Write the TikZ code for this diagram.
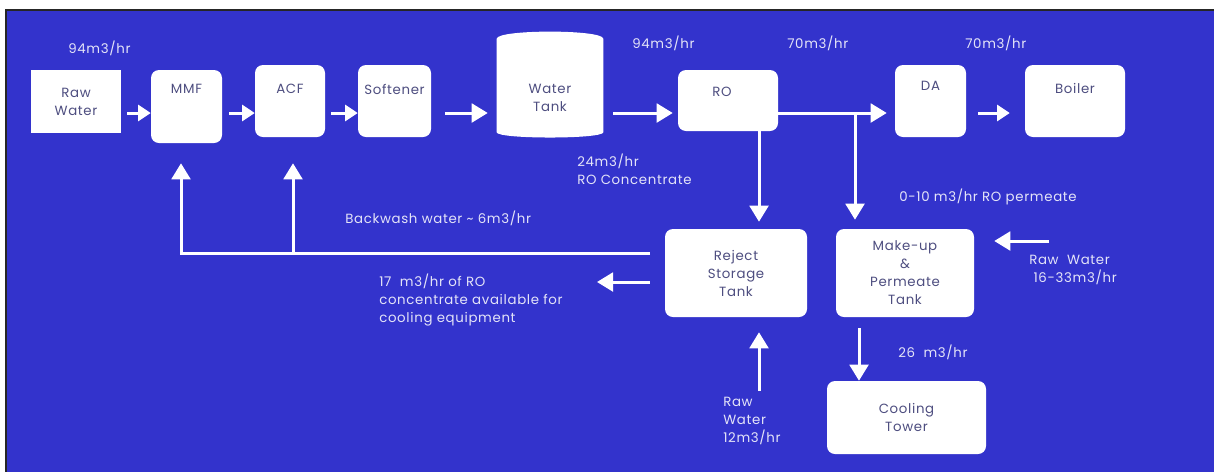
\documentclass[tikz,border=0pt]{standalone}
\usepackage{fontspec}
\setmainfont{Poppins}[LetterSpace=5]
\usetikzlibrary{arrows.meta,calc}
\definecolor{bg}{RGB}{51,51,204}
\definecolor{intext}{RGB}{78,78,128}
\definecolor{outtext}{RGB}{228,228,248}
\tikzset{
  box/.style={fill=white, rounded corners=6pt, inner sep=0pt, text=intext, align=center, font=\fontsize{10}{13.5}\selectfont},
  sqbox/.style={box, rounded corners=0pt},
  intxt/.style={text=intext, inner sep=0pt, font=\fontsize{10}{13.5}\selectfont},
  lbl/.style={text=outtext, anchor=west, align=left, inner sep=0pt, font=\fontsize{10}{13.5}\selectfont},
  flow/.style={draw=white, line width=2.25pt, -{Triangle[length=12pt,width=14pt]}},
  flowsm/.style={flow, -{Triangle[length=9.5pt,width=12pt]}},
}
\begin{document}
\begin{tikzpicture}[x=0.75pt,y=-0.75pt]
\useasboundingbox (0,0) rectangle (1214,472);
\fill[white] (0,0) rectangle (1214,472);
\fill[black!85] (5,9) rectangle (1214,472);
\fill[bg] (7,11) rectangle (1214,472);

% boxes
\node[sqbox, minimum width=67.5pt, minimum height=47.25pt] (raw) at (76,101.5) {Raw\\Water};
\node[box, minimum width=53.25pt, minimum height=54.75pt] (mmf) at (186.5,106.5) {};
\node[intxt] (mmft) at (186.5,89) {MMF};
\node[box, minimum width=52.5pt, minimum height=54pt] (acf) at (290,101) {};
\node[intxt] (acft) at (290,89) {ACF};
\node[box, minimum width=54.75pt, minimum height=54pt] (soft) at (394.5,101) {};
\node[intxt] (softt) at (394.5,89) {Softener};
\node[inner sep=0pt, minimum width=79.5pt, minimum height=69.75pt] (tank) at (550,85.5) {};
\fill[white] (tank.north west) .. controls ($(tank.north west)+(0,-9.5)$) and ($(tank.north east)+(0,-9.5)$) .. (tank.north east)
  -- (tank.south east) .. controls ($(tank.south east)+(0,7)$) and ($(tank.south west)+(0,7)$) .. (tank.south west) -- cycle;
\node[intxt, align=center] (tankt) at (550,98) {Water\\Tank};
\node[box, minimum width=75pt, minimum height=45.75pt] (ro) at (728,100.5) {};
\node[intxt] (rot) at (722,92) {RO};
\node[box, minimum width=53.25pt, minimum height=54pt] (da) at (930.5,101) {};
\node[intxt] (dat) at (930.5,86) {DA};
\node[box, minimum width=75pt, minimum height=54pt] (boiler) at (1075,101) {};
\node[intxt] (boilert) at (1075,88) {Boiler};
\node[box, minimum width=106.5pt, minimum height=66pt] (reject) at (736,273) {Reject\\Storage\\Tank};
\node[box, minimum width=103.5pt, minimum height=66pt] (makeup) at (905,273) {Make-up\\\&\\Permeate\\Tank};
\node[box, minimum width=119.25pt, minimum height=54.75pt] (cooling) at (906.5,417.5) {Cooling\\Tower};

% labels
\node[lbl] (f1) at (68,48) {94m3/hr};
\node[lbl] (f2) at (632,43) {94m3/hr};
\node[lbl] (f3) at (787,43) {70m3/hr};
\node[lbl] (f4) at (965,43) {70m3/hr};
\node[lbl] (conc) at (577,169.5) {24m3/hr\\RO Concentrate};
\node[lbl] (perm) at (899,197) {0-10 m3/hr RO permeate};
\node[lbl] (bwl) at (345,218) {Backwash water \textasciitilde{} 6m3/hr};
\node[lbl] (avl) at (379,300.5) {17\ \ m3/hr of RO\\concentrate available for\\cooling equipment};
\node[lbl] (r16l) at (1029,269.5) {Raw\ \ Water\\\ 16-33m3/hr};
\node[lbl] (ctl) at (898,352) {26\ \ m3/hr};
\node[lbl] (r12l) at (723,421) {Raw\\Water\\12m3/hr};

% connectors
\coordinate (flowy) at (0,113);
\draw[flowsm] ($(raw.east |- flowy)+(6,0)$) -- (mmf.west |- flowy);
\draw[flowsm] ($(mmf.east |- flowy)+(7,0)$) -- (acf.west |- flowy);
\draw[flowsm] ($(acf.east |- flowy)+(6,0)$) -- (soft.west |- flowy);
\draw[flow] ($(soft.east |- flowy)+(14,0)$) -- ($(tank.west |- flowy)+(-9,0)$);
\draw[flow] ($(tank.east |- flowy)+(10,0)$) -- ($(ro.west |- flowy)+(-5,0)$);
\draw[flow] (ro.east |- flowy) -- ($(da.west |- flowy)+(-8,0)$);
\draw[flowsm] ($(da.east |- flowy)+(12,0)$) -- ($(boiler.west |- flowy)+(-15,0)$);

\coordinate (br) at (855,113);
\draw[flow] (br) -- ($(makeup.north -| br)+(0,-9)$);
\coordinate (r12) at (759,391);
\draw[flow] (ro.south -| r12) -- ($(reject.north -| r12)+(0,-7)$);
\draw[flow] (r12) -- ($(r12 |- reject.south)+(0,15)$);
\coordinate (mc) at (859,0);
\draw[flow] ($(makeup.south -| mc)+(0,11)$) -- (cooling.north -| mc);
\coordinate (r16) at (1049,241);
\draw[flow] (r16) -- ($(makeup.east |- r16)+(20,0)$);
\coordinate (avail) at (597,282);
\draw[flow] ($(reject.west |- avail)+(-15,0)$) -- (avail);

\coordinate (bwR) at (650,253);
\coordinate (bwL) at (181,253);
\coordinate (bwM) at (293,253);
\draw[flow, line join=miter] (bwR) -- (bwL) -- ($(bwL |- mmf.south)+(0,20)$);
\draw[flow] (bwM) -- ($(bwM |- acf.south)+(0,26)$);
\end{tikzpicture}
\end{document}
